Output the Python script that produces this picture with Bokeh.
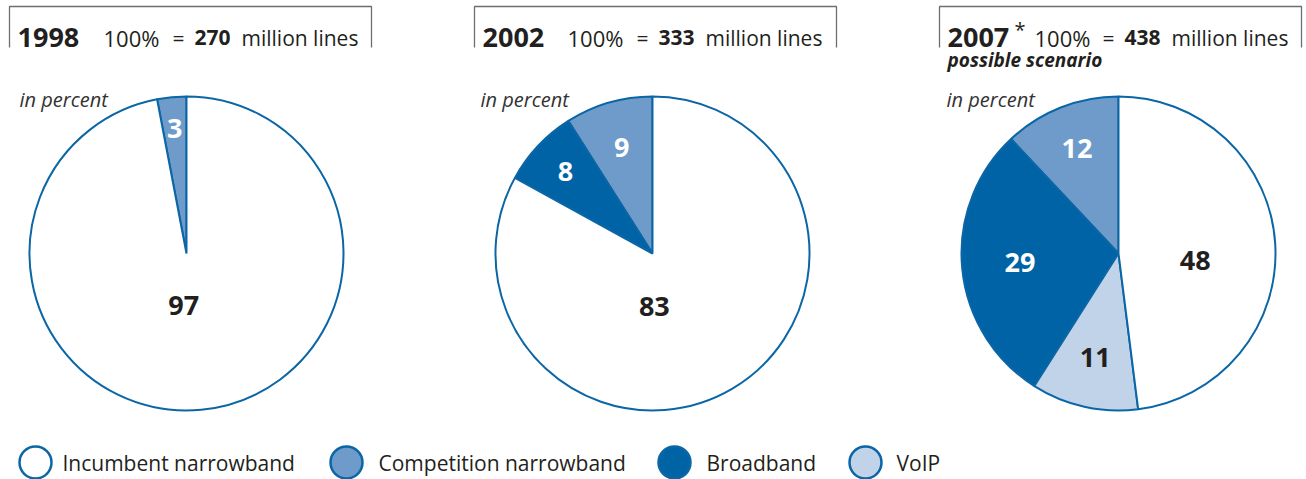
import math

from bokeh.core.properties import value
from bokeh.embed import file_html
from bokeh.models import ColumnDataSource, Range1d
from bokeh.plotting import figure
from bokeh.resources import INLINE

# ---- data -------------------------------------------------------------
years = ["1998", "2002", "2007"]
year_marks = ["", "", "*"]
totals = [270, 333, 438]
subtitles = ["", "", "possible scenario"]

categories = ["Incumbent narrowband", "Competition narrowband", "Broadband", "VoIP"]
incumbent = [97, 83, 48]
competition = [3, 9, 12]
broadband = [0, 8, 29]
voip = [0, 0, 11]

# ---- styling ----------------------------------------------------------
W, H = 1306, 479
FONT = value("Open Sans")
TEXT = "#231f20"
EDGE = "#0b66a6"
BOX = "#6d6e71"
fills = {
    "Incumbent narrowband": "#ffffff",
    "Competition narrowband": "#6e9bc9",
    "Broadband": "#0063a5",
    "VoIP": "#c0d3e8",
}
label_colors = {
    "Incumbent narrowband": TEXT,
    "Competition narrowband": "#ffffff",
    "Broadband": "#ffffff",
    "VoIP": TEXT,
}

# pie layout (pixel coordinates, y measured from the top)
centers_x = [186, 652, 1118]
center_y = 253
R = 157
# label placement per pie: category -> (fraction of radius, angle override in degrees)
label_place = [
    {"Competition narrowband": (0.80, None), "Incumbent narrowband": (0.33, 267)},
    {"Competition narrowband": (0.70, None), "Broadband": (0.76, None),
     "Incumbent narrowband": (0.34, 272)},
    {"Competition narrowband": (0.72, None), "Broadband": (0.63, None),
     "VoIP": (0.68, None), "Incumbent narrowband": (0.49, -5)},
]
box_left = [9, 474, 939]
box_right = [371, 836, 1301]


def Y(py):
    """convert a top-down pixel row into the plot's y coordinate"""
    return H - py


p = figure(width=W, height=H, x_range=Range1d(0, W), y_range=Range1d(0, H),
           output_backend="svg", toolbar_location=None, min_border=0,
           outline_line_color=None, background_fill_color="white",
           border_fill_color="white")
p.axis.visible = False
p.grid.visible = False

# ---- wedges -----------------------------------------------------------
wx, wy, ws, we, wf = [], [], [], [], []
lx, ly, lt, lc = [], [], [], []
series = {
    "Incumbent narrowband": incumbent,
    "Competition narrowband": competition,
    "Broadband": broadband,
    "VoIP": voip,
}
order = ["Competition narrowband", "Broadband", "VoIP", "Incumbent narrowband"]
for i in range(len(years)):
    start = 90.0
    for cat in order:
        v = series[cat][i]
        if v <= 0:
            continue
        sweep = v / 100 * 360
        wx.append(centers_x[i])
        wy.append(Y(center_y))
        ws.append(math.radians(start))
        we.append(math.radians(start + sweep))
        wf.append(fills[cat])
        frac, ang = label_place[i][cat]
        mid = start + sweep / 2 if ang is None else ang
        lx.append(centers_x[i] + frac * R * math.cos(math.radians(mid)))
        ly.append(Y(center_y) + frac * R * math.sin(math.radians(mid)))
        lt.append(str(v))
        lc.append(label_colors[cat])
        start += sweep

p.wedge(x="x", y="y", radius=R, start_angle="s", end_angle="e",
        fill_color="f", line_color=EDGE, line_width=2,
        source=ColumnDataSource(dict(x=wx, y=wy, s=ws, e=we, f=wf)))
p.text(x="x", y="y", text="t", text_color="c", text_font=FONT,
       text_font_size="27px", text_font_style="bold", text_align="center",
       text_baseline="middle",
       source=ColumnDataSource(dict(x=lx, y=ly, t=lt, c=lc)))

# ---- title boxes ------------------------------------------------------
bx, by = [], []
for l, r in zip(box_left, box_right):
    bx.append([l, l, r, r])
    by.append([Y(47), Y(6), Y(6), Y(47)])
p.multi_line(xs=bx, ys=by, line_color=BOX, line_width=1.3)

year_x = [17, 482, 947]
pct_x = [103, 567, 1034]
eq_x = [172, 636, 1102]
num_x = [194, 658, 1124]
mil_x = [241, 705, 1171]
star_x = [0, 0, 1014]
base = Y(37)
for i in range(len(years)):
    p.text(x=[year_x[i]], y=[base], text=[years[i]], text_font=FONT,
           text_font_size="27px", text_font_style="bold", text_color=TEXT,
           text_baseline="alphabetic")
    if year_marks[i]:
        p.text(x=[star_x[i]], y=[Y(29)], text=[year_marks[i]], text_font=FONT,
               text_font_size="20px", text_color=TEXT, text_baseline="alphabetic")
    p.text(x=[pct_x[i]], y=[base], text=["100%"], text_font=FONT,
           text_font_size="22px", text_color=TEXT, text_baseline="alphabetic")
    p.text(x=[eq_x[i]], y=[base], text=["="], text_font=FONT,
           text_font_size="21px", text_color=TEXT, text_baseline="alphabetic")
    p.text(x=[num_x[i]], y=[base], text=[str(totals[i])], text_font=FONT,
           text_font_size="21px", text_font_style="bold", text_color=TEXT,
           text_baseline="alphabetic")
    p.text(x=[mil_x[i]], y=[base], text=["million lines"], text_font=FONT,
           text_font_size="21px", text_color=TEXT, text_baseline="alphabetic")
    if subtitles[i]:
        p.text(x=[year_x[i]], y=[Y(59)], text=[subtitles[i]], text_font=FONT,
               text_font_size="19px", text_font_style="bold italic",
               text_color=TEXT, text_baseline="alphabetic")

unit_x = [19, 480, 946]
p.text(x=unit_x, y=[Y(99)] * 3, text=["in percent"] * 3, text_font=FONT,
       text_font_size="20px", text_font_style="italic", text_color="#333333",
       text_baseline="alphabetic")

# ---- legend -----------------------------------------------------------
leg_marker_x = [35, 346, 674, 865]
leg_text_x = [62, 378, 706, 896]
leg_y = Y(462)
p.circle(x=leg_marker_x, y=[leg_y] * 4, radius=16,
         fill_color=[fills[c] for c in categories], line_color=EDGE, line_width=2.5)
p.text(x=leg_text_x, y=[leg_y] * 4, text=categories, text_font=FONT,
       text_font_size="21px", text_color=TEXT, text_baseline="middle")

open("out.html", "w").write(file_html(p, INLINE))
